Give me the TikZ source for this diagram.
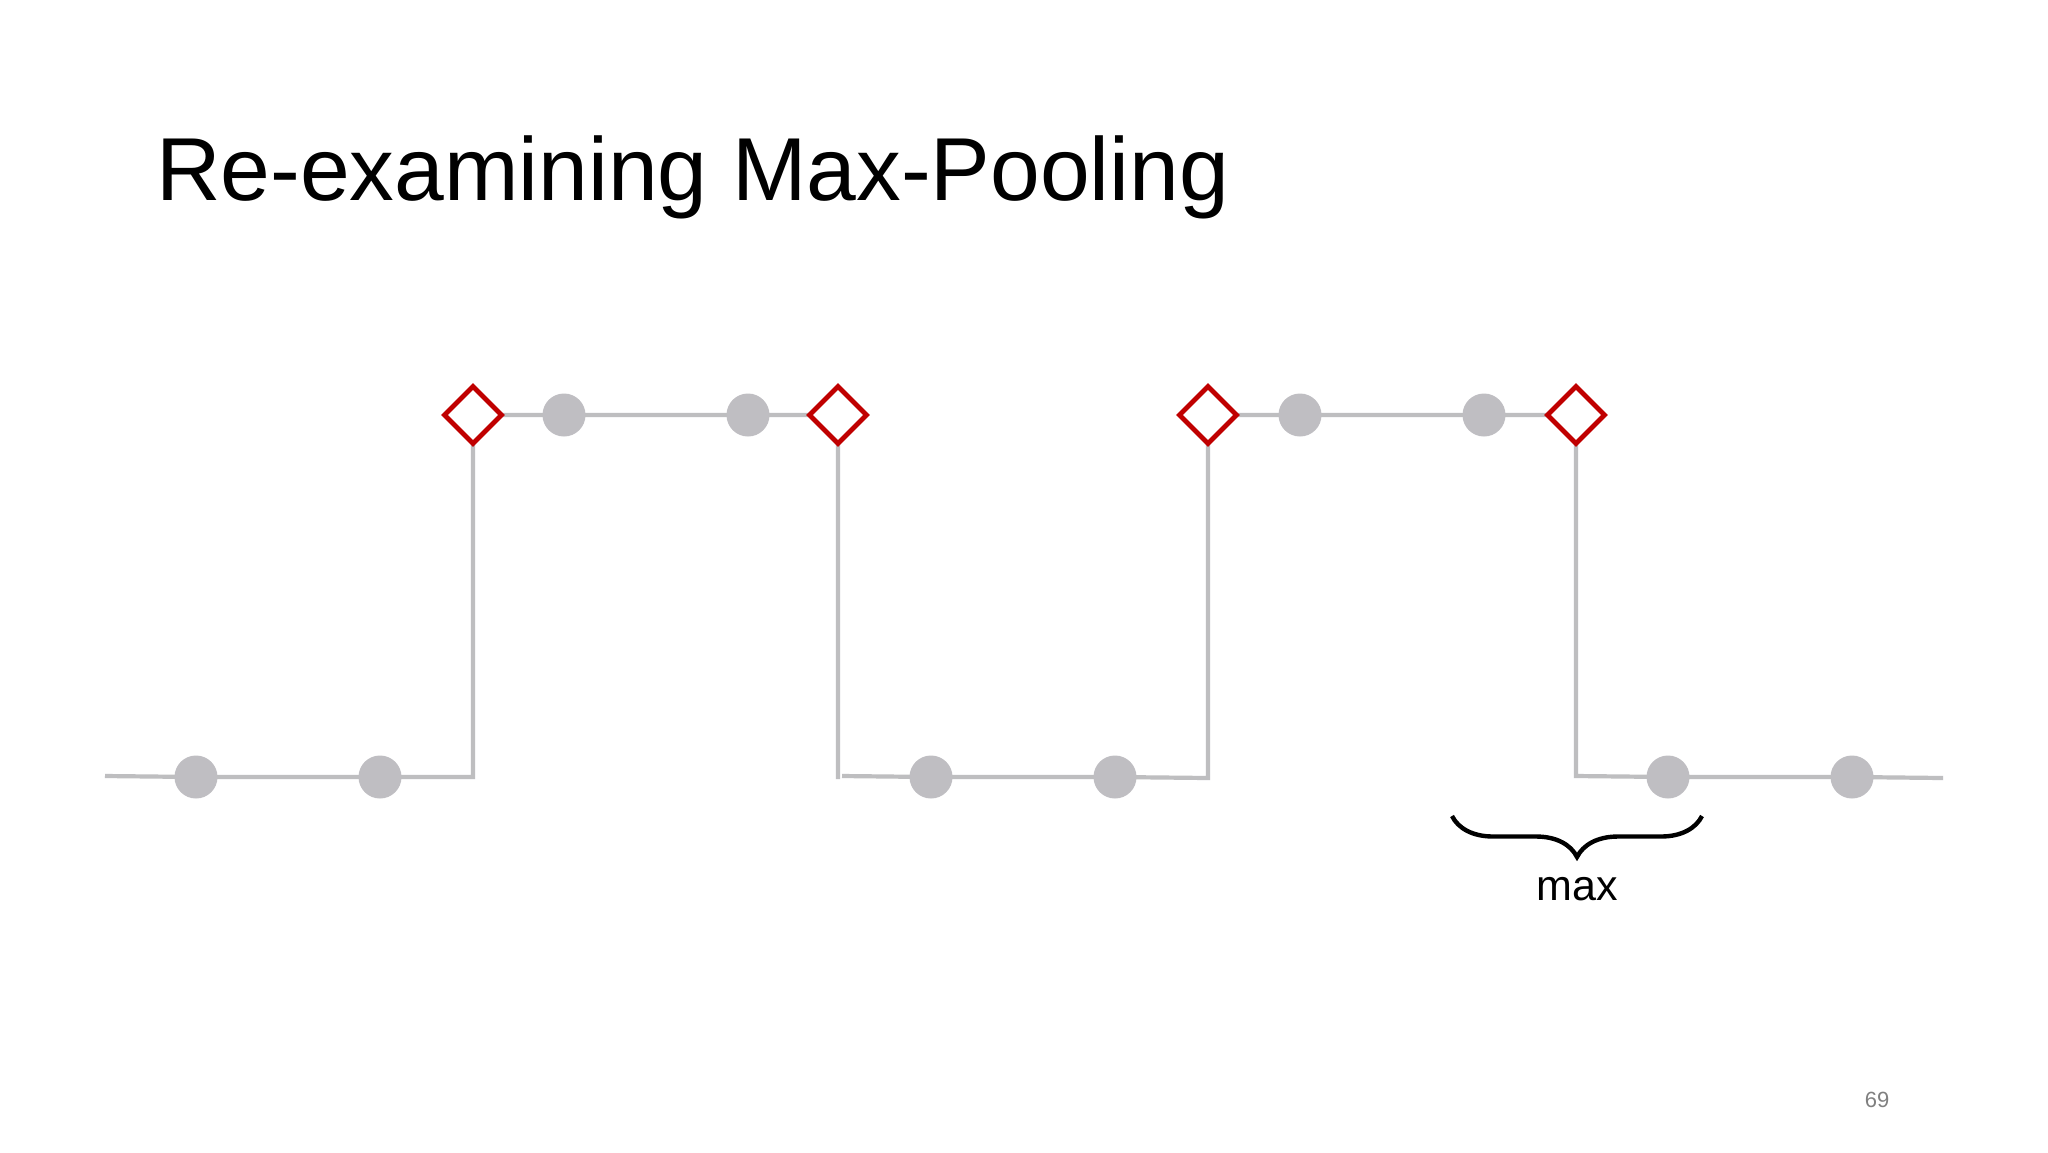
\documentclass[tikz,border=0pt]{standalone}
\usepackage{fontspec}
\setmainfont{Liberation Sans}
\usetikzlibrary{shapes.geometric,decorations.pathreplacing}
\definecolor{linegray}{HTML}{BEBEC0}
\definecolor{dotgray}{HTML}{BFBEC2}
\definecolor{dred}{HTML}{C00000}
\definecolor{numgray}{HTML}{808080}
\pgfdeclarelayer{paper}
\pgfdeclarelayer{background}
\pgfsetlayers{paper,background,main}
\begin{document}
\begin{tikzpicture}[x=0.5pt,y=-0.5pt,
  dot/.style={circle,fill=dotgray,minimum size=21.5pt,inner sep=0pt},
  peak/.style={diamond,draw=dred,line width=2.4pt,fill=white,minimum width=29.5pt,minimum height=29.5pt,inner sep=0pt},
  wire/.style={draw=linegray,line width=2.1pt},
  bracestyle/.style={line width=2.2pt,decorate,decoration={brace,mirror,amplitude=20.5pt}}]
\begin{pgfonlayer}{paper}
\fill[white] (0,0) rectangle (2048,1152);
\end{pgfonlayer}
\useasboundingbox (0,0) rectangle (2048,1152);

\node[anchor=base west,font=\fontsize{44.7}{52}\selectfont] (title) at (149,200) {Re-examining Max-Pooling};

% bottom and top levels
\coordinate (s) at (105,776);
\node[dot] (c1) at (196,777) {};
\node[dot] (c2) at (380,777) {};
\coordinate (b1) at (473,777);
\node[peak] (d1) at (473,415) {};
\node[dot] (c3) at (564,415) {};
\node[dot] (c4) at (748,415) {};
\node[peak] (d2) at (838,415) {};
\coordinate (b2) at (838,779);
\coordinate (b2r) at (842,776);
\node[dot] (c5) at (931,777) {};
\node[dot] (c6) at (1115,777) {};
\coordinate (b3) at (1208,778);
\node[peak] (d3) at (1208,415) {};
\node[dot] (c7) at (1300,415) {};
\node[dot] (c8) at (1484,415) {};
\node[peak] (d4) at (1576,415) {};
\coordinate (b4) at (1576,776);
\node[dot] (c9) at (1668,777) {};
\node[dot] (c10) at (1852,777) {};
\coordinate (e) at (1943,778);

\begin{pgfonlayer}{background}
\draw[wire] (s) -- (c1.center) -- (c2.center) -- (b1) -- (d1.center) -- (c3.center) -- (c4.center) -- (d2.center) -- (b2);
\draw[wire] (b2r) -- (c5.center) -- (c6.center) -- (b3) -- (d3.center) -- (c7.center) -- (c8.center) -- (d4.center) -- (b4) -- (c9.center) -- (c10.center) -- (e);
\end{pgfonlayer}

% brace
\coordinate (bl) at (1452,816);
\coordinate (br) at (1702,816);
\draw[bracestyle] (bl) -- (br);
\node[anchor=base,font=\fontsize{21.5}{25}\selectfont] (maxlabel) at (1577,900) {max};

\node[anchor=base,font=\fontsize{11}{13}\selectfont,text=numgray] (pagenum) at (1877,1107) {69};
\end{tikzpicture}
\end{document}
